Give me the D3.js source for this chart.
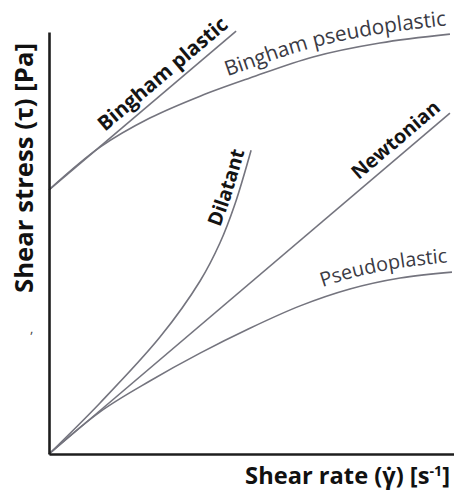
<!DOCTYPE html>
<html><head><meta charset="utf-8">
<script src="https://cdn.jsdelivr.net/npm/d3@7"></script>
<style>html,body{margin:0;padding:0;background:#fff}</style>
</head><body>
<svg id="c" width="454" height="491" xmlns="http://www.w3.org/2000/svg"></svg>
<script>
// ---- data (arbitrary units) ----
const xDomain = [0, 10];
const yDomain = [0, 10];
const binghamPlastic = [[0, 6.26], [4.62, 10.02]];
const binghamPseudoplastic = [[0, 6.26], [1.26, 7.27], [2.49, 7.96], [3.73, 8.48], [4.96, 8.91], [6.52, 9.41], [8.17, 9.74], [9.9, 9.95]];
const dilatant = [[0, 0], [1.26, 1.21], [2.74, 2.77], [3.73, 4.10], [4.22, 5.0], [4.59, 5.92], [4.99, 7.2]];
const newtonian = [[0, 0], [9.9, 8.08]];
const pseudoplastic = [[0, 0], [1.26, 1.0], [2.49, 1.73], [3.73, 2.39], [4.96, 2.98], [6.2, 3.51], [7.43, 3.91], [8.67, 4.17], [9.95, 4.31]];
const seriesNames = ["Bingham plastic", "Bingham pseudoplastic", "Dilatant", "Newtonian", "Pseudoplastic"];
const xTitle = "Shear rate (γ̇) [s";
const xTitleSup = "-1";
const yTitle = "Shear stress (τ) [Pa]";

// ---- layout ----
const svg = d3.select("#c");
const x = d3.scaleLinear().domain(xDomain).range([49, 454]);
const y = d3.scaleLinear().domain(yDomain).range([454, 32]);
const FONT = "'Open Sans', 'Noto Sans', 'DejaVu Sans', sans-serif";

const series = [binghamPlastic, binghamPseudoplastic, dilatant, newtonian, pseudoplastic];
const labelCfg = [
  {start: 1.38, len: 163, off: 8, weight: 700, fill: "#141414"},
  {start: 4.40, len: 226, off: 9, weight: 400, fill: "#3a3a44"},
  {start: 4.22, len: 80,  off: 6, weight: 700, fill: "#141414"},
  {start: 7.63, len: 109, off: 8, weight: 700, fill: "#141414"},
  {start: 6.74, len: 128, off: 10, weight: 400, fill: "#3a3a44"}
];

const line = d3.line().x(d => x(d[0])).y(d => y(d[1])).curve(d3.curveCatmullRom.alpha(0.5));
const defs = svg.append("defs");

const curves = svg.append("g").selectAll("path").data(series).join("path")
  .attr("d", line)
  .attr("fill", "none")
  .attr("stroke", "#74747e")
  .attr("stroke-width", 1.6);

// axes
svg.append("g").attr("transform", `translate(${x(0)},0)`)
  .call(d3.axisLeft(y).tickValues([]).tickSizeOuter(0));
svg.append("g").attr("transform", `translate(0,${y(0)})`)
  .call(d3.axisBottom(x).tickValues([]).tickSizeOuter(0));
svg.selectAll(".domain").attr("stroke", "#1e1e1e").attr("stroke-width", 2.6);

// curve labels on offset paths
curves.each(function(d, i) {
  const node = this;
  const cfg = labelCfg[i];
  const L = node.getTotalLength();
  const n = 300;
  const pts = d3.range(n + 1).map(k => node.getPointAtLength(L * k / n));
  const offPts = pts.map((p, k) => {
    const a = pts[Math.max(0, k - 3)], b = pts[Math.min(n, k + 3)];
    const dx = b.x - a.x, dy = b.y - a.y, h = Math.hypot(dx, dy) || 1;
    return [p.x + dy / h * cfg.off, p.y - dx / h * cfg.off];
  });
  const id = "lp" + i;
  const offPath = defs.append("path").attr("id", id).attr("d", d3.line().curve(d3.curveBasis)(offPts));
  const on = offPath.node();
  const OL = on.getTotalLength();
  const targetX = x(cfg.start);
  let s = 0;
  for (let k = 0; k <= 600; k++) {
    const p = on.getPointAtLength(OL * k / 600);
    if (p.x >= targetX) { s = OL * k / 600; break; }
  }
  const t = svg.append("text")
    .attr("font-family", FONT)
    .attr("font-weight", cfg.weight)
    .attr("font-size", 16)
    .attr("fill", cfg.fill);
  t.append("textPath").attr("href", "#" + id).attr("startOffset", s).text(seriesNames[i]);
  const w = t.node().getComputedTextLength();
  t.attr("font-size", 16 * cfg.len / w);
});

// axis titles
const yt = svg.append("text")
  .attr("transform", "translate(33,168) rotate(-90)")
  .attr("text-anchor", "middle")
  .attr("font-family", FONT).attr("font-weight", 700).attr("font-size", 20)
  .attr("fill", "#111").text(yTitle);
let w = yt.node().getComputedTextLength();
yt.attr("font-size", 20 * 250 / w);

const xt = svg.append("text")
  .attr("x", 450).attr("y", 484)
  .attr("text-anchor", "end")
  .attr("font-family", FONT).attr("font-weight", 700).attr("font-size", 20)
  .attr("fill", "#111");
xt.append("tspan").text(xTitle);
xt.append("tspan").attr("font-size", "0.6em").attr("dy", "-0.55em").text(xTitleSup);
xt.append("tspan").attr("dy", "0.33em").text("]");
w = xt.node().getComputedTextLength();
xt.attr("font-size", 20 * 205 / w);

// stray mark seen in the original
svg.append("text").attr("x", 30).attr("y", 333)
  .attr("font-family", FONT).attr("font-size", 13).attr("fill", "#444").text(",");
</script>
</body></html>
